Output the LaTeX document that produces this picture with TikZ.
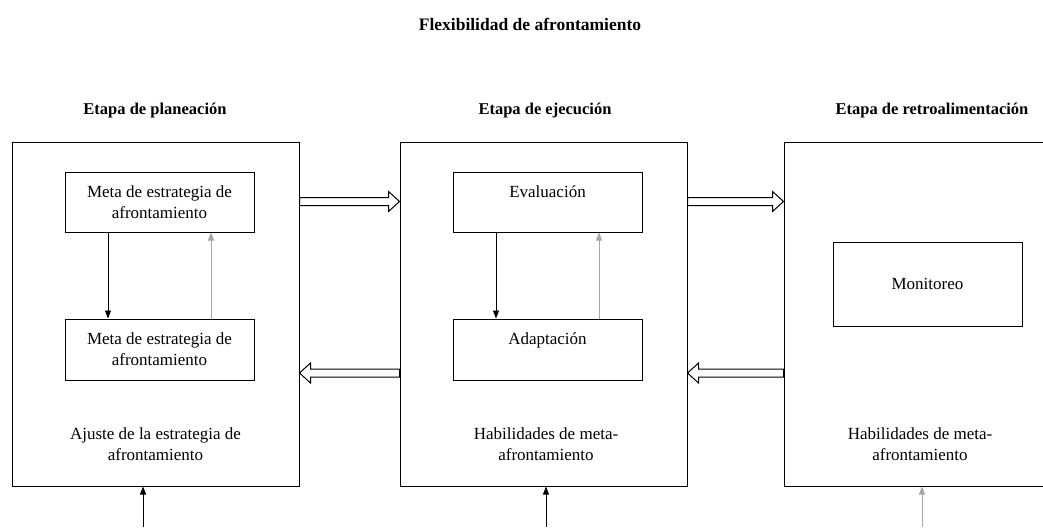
\documentclass[tikz,border=0pt]{standalone}
\usepackage{fontspec}
\setmainfont{Liberation Serif}
\usetikzlibrary{arrows.meta,calc}

% hollow block arrow between two points on one height
\newcommand{\hollowarrow}[2]{%
  \draw[hollow] let \p1=(#1), \p2=(#2), \n1={sign(\x2-\x1)} in
    (\x1,\y1+4pt) -- (\x2-\n1*11pt,\y1+4pt) -- (\x2-\n1*11pt,\y1+10pt) -- (\x2,\y1)
    -- (\x2-\n1*11pt,\y1-10pt) -- (\x2-\n1*11pt,\y1-4pt) -- (\x1,\y1-4pt) -- cycle;}

\begin{document}
\begin{tikzpicture}[x=1pt,y=-1pt,
  stage/.style={draw, line width=1pt, minimum width=287pt, minimum height=344pt, inner sep=0pt},
  innerbox/.style={draw, line width=1pt, minimum width=189pt, inner sep=0pt, align=center,
    font=\fontsize{17}{21}\selectfont},
  bodytext/.style={align=center, font=\fontsize{17}{21}\selectfont},
  headtext/.style={font=\bfseries\fontsize{16.5}{19}\selectfont},
  flow/.style={line width=0.8pt, -{Triangle[length=8pt,width=6pt]}},
  thinflow/.style={line width=0.6pt, gray!70, -{Triangle[length=8pt,width=6pt]}},
  hollow/.style={line width=1pt, line join=miter}]
\useasboundingbox (0,0) rectangle (1043,527);
\clip (0,0) rectangle (1043,527);

\node[headtext, font=\bfseries\fontsize{17.5}{20}\selectfont] (title) at (530,24) {Flexibilidad de afrontamiento};

% the three stages
\node[stage] (plan) at (155.5,314) {};
\node[stage] (ejec) at (543.5,314) {};
\node[stage] (retro) at (927.5,314) {};

\node[headtext] (planhead) at (155,111) {Etapa de planeación};
\node[headtext] (ejechead) at (545,111) {Etapa de ejecución};
\node[headtext] (retrohead) at (932,111) {Etapa de retroalimentación};

% inner boxes
\node[innerbox, minimum height=60pt] (meta1) at (159.5,202) {Meta de estrategia de\\afrontamiento};
\node[innerbox, minimum height=61pt] (meta2) at (159.5,349.5) {Meta de estrategia de\\afrontamiento};
\node[innerbox, minimum height=60pt] (eval) at (547.5,202) {Evaluación\\\phantom{x}};
\node[innerbox, minimum height=61pt] (adapt) at (547.5,349.5) {Adaptación\\\phantom{x}};
\node[innerbox, minimum height=84pt] (monit) at (927.5,284) {Monitoreo};

\node[bodytext] (plantxt) at (155.5,444) {Ajuste de la estrategia de\\afrontamiento};
\node[bodytext] (ejectxt) at (546,444) {Habilidades de meta-\\afrontamiento};
\node[bodytext] (retrotxt) at (920,444) {Habilidades de meta-\\afrontamiento};

% arrows inside the boxes
\draw[flow] ([xshift=-51.5pt]meta1.south) -- ([xshift=-51.5pt]meta2.north);
\draw[thinflow] ([xshift=51.5pt]meta2.north) -- ([xshift=51.5pt]meta1.south);
\draw[flow] ([xshift=-51.5pt]eval.south) -- ([xshift=-51.5pt]adapt.north);
\draw[thinflow] ([xshift=51.5pt]adapt.north) -- ([xshift=51.5pt]eval.south);

% hollow arrows between the stages
\coordinate (a1) at ($(plan.north east)+(0,60)$);
\coordinate (a2) at ($(ejec.north west)+(0,60)$);
\coordinate (a3) at ($(ejec.north east)+(0,60)$);
\coordinate (a4) at ($(retro.north west)+(0,60)$);
\coordinate (b1) at ($(ejec.north west)+(0,231.5)$);
\coordinate (b2) at ($(plan.north east)+(0,231.5)$);
\coordinate (b3) at ($(retro.north west)+(0,231.5)$);
\coordinate (b4) at ($(ejec.north east)+(0,231.5)$);
\hollowarrow{a1}{a2}
\hollowarrow{a3}{a4}
\hollowarrow{b1}{b2}
\hollowarrow{b3}{b4}

% arrows from below
\coordinate (in1) at (143,527);
\coordinate (in2) at (546,527);
\coordinate (in3) at (922,527);
\draw[flow] (in1) -- (in1 |- plan.south);
\draw[flow] (in2) -- (in2 |- ejec.south);
\draw[thinflow] (in3) -- (in3 |- retro.south);
\end{tikzpicture}
\end{document}
